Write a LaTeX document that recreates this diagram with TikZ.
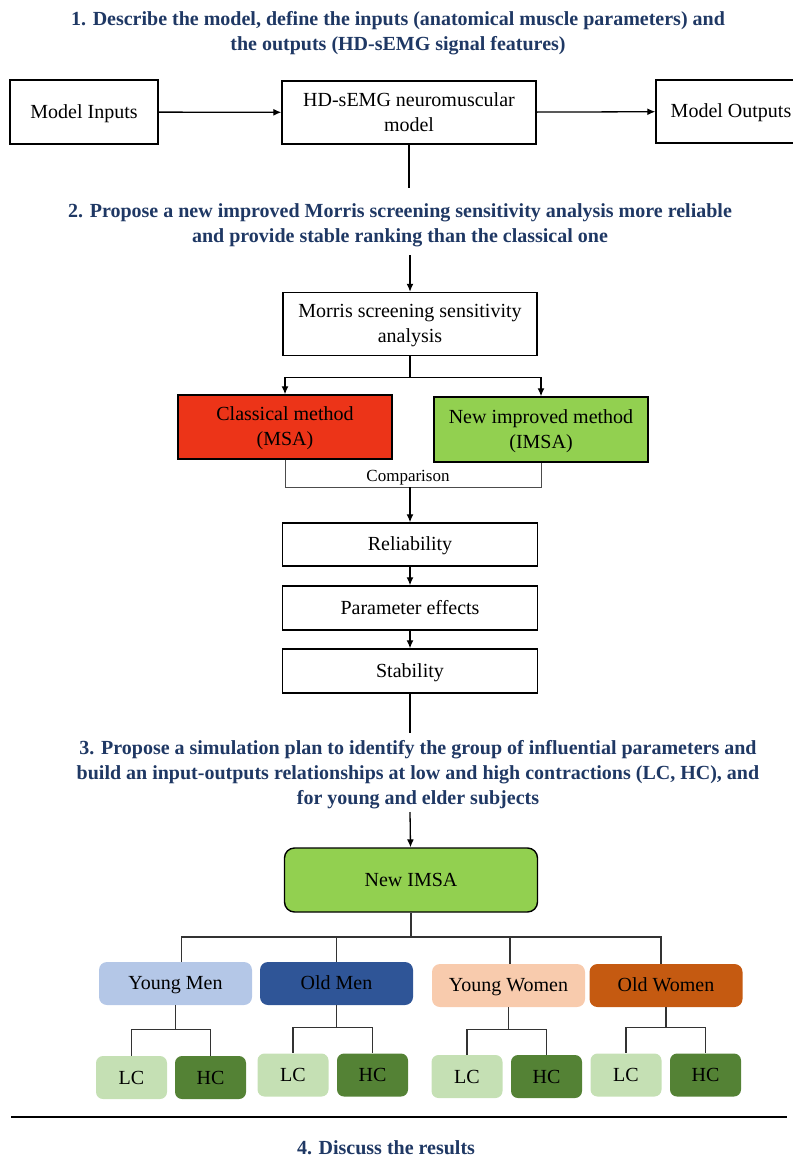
\documentclass[tikz,border=0pt]{standalone}
\usepackage{fontspec}
\setmainfont{Liberation Serif}
\usetikzlibrary{arrows.meta,positioning,calc}
\definecolor{hdblue}{RGB}{31,56,100}
\definecolor{msared}{RGB}{236,52,24}
\definecolor{imsagreen}{RGB}{146,208,80}
\definecolor{ymblue}{RGB}{180,199,231}
\definecolor{omblue}{RGB}{47,85,151}
\definecolor{ywpeach}{RGB}{248,203,173}
\definecolor{oworange}{RGB}{197,90,17}
\definecolor{lcgreen}{RGB}{197,224,180}
\definecolor{hcgreen}{RGB}{84,130,53}

\begin{document}
\begin{tikzpicture}[x=1pt, y=-1pt,
    font=\fontsize{20}{25}\selectfont,
    box/.style={draw, line width=1.4pt, fill=white, align=center, text depth=1pt},
    grp/.style={rounded corners=8pt, minimum width=153pt, minimum height=43pt, text depth=1pt},
    sub/.style={rounded corners=7pt, minimum width=71pt, minimum height=43pt, text depth=0pt},
    hdr/.style={text=hdblue, font=\fontsize{20}{25}\selectfont\bfseries, align=center},
    arr/.style={line width=1.3pt, -{Latex[length=8pt,width=7pt]}},
    link/.style={line width=1.3pt},
    tree/.style={line width=1.1pt, draw=black!80}]
    \useasboundingbox (0,0) rectangle (792,1158);

    % step 1 - the model
    \node[hdr] (hdr1) at (398,33) {1. Describe the model, define the inputs (anatomical muscle parameters) and\\the outputs (HD-sEMG signal features)};
    \node[box, minimum width=148pt, minimum height=64pt] (inputs) at (84,112) {Model Inputs};
    \node[box, minimum width=254pt, minimum height=63pt] (hdmodel) at (409,112.5) {HD-sEMG neuromuscular\\model};
    \node[box, minimum width=150pt, minimum height=63pt] (outputs) at (731,111.5) {Model Outputs};
    \draw[arr] (inputs) -- (hdmodel);
    \draw[arr] (hdmodel) -- (outputs);
    \coordinate (s1) at (409,188);
    \draw[link] (hdmodel) -- (s1);

    % step 2 - Morris screening
    \node[hdr] (hdr2) at (400,225.5) {2. Propose a new improved Morris screening sensitivity analysis more reliable\\and provide stable ranking than the classical one};
    \coordinate (s2) at (410,255);
    \node[box, minimum width=254pt, minimum height=63pt] (morris) at (410,324) {Morris screening sensitivity\\analysis};
    \draw[arr] (s2) -- (morris);
    \node[box, fill=msared, minimum width=214pt, minimum height=64pt] (msa) at (285,427) {Classical method\\(MSA)};
    \node[box, fill=imsagreen, minimum width=214pt, minimum height=65pt] (imsa) at (541,429.5) {New improved method\\(IMSA)};
    \draw[arr] (morris.south) -- ++(0,21) -| (msa.north);
    \draw[arr] (morris.south) -- ++(0,21) -| (imsa.north);
    % comparison bracket
    \draw[line width=0.9pt, draw=black!70] (msa.south) -- ++(0,28) -| (imsa.south);
    \node[font=\fontsize{17}{20}\selectfont] (cmp) at (408,478) {Comparison};
    \coordinate (s3) at (410,487);
    \node[box, minimum width=255pt, minimum height=43pt] (reli) at (410,544.5) {Reliability};
    \node[box, minimum width=255pt, minimum height=44pt] (effects) at (410,608) {Parameter effects};
    \node[box, minimum width=255pt, minimum height=44pt] (stab) at (410,671) {Stability};
    \draw[arr] (s3) -- (reli);
    \draw[arr] (reli) -- (effects);
    \draw[arr] (effects) -- (stab);
    \coordinate (s4) at (410,733);
    \draw[link] (stab) -- (s4);

    % step 3 - simulation plan
    \node[hdr] (hdr3) at (418,774.5) {3. Propose a simulation plan to identify the group of influential parameters and\\build an input-outputs relationships at low and high contractions (LC, HC), and\\for young and elder subjects};
    \coordinate (s5) at (410,812);
    \node[box, fill=imsagreen, rounded corners=10pt, minimum width=253pt, minimum height=64pt] (newimsa) at (411,880) {New IMSA};
    \draw[arr] (s5) -- (newimsa);

    % subject groups
    \node[grp, fill=ymblue] (ym) at (175.5,983.5) {Young Men};
    \node[grp, fill=omblue] (om) at (336.5,983.5) {Old Men};
    \node[grp, fill=ywpeach] (yw) at (508.5,985.5) {Young Women};
    \node[grp, fill=oworange] (ow) at (666,985.5) {Old Women};
    \coordinate (bus) at (411,937);
    \draw[tree] (newimsa) -- (bus);
    \draw[tree] ([xshift=6pt]ym.north) |- (bus);
    \draw[tree] (om.north) |- (bus);
    \draw[tree] ([xshift=1.5pt]yw.north) |- (bus);
    \draw[tree] ([xshift=-5pt]ow.north) |- (bus);

    % low / high contraction
    \node[sub, fill=lcgreen] (ymlc) at (131.5,1077.5) {LC};
    \node[sub, fill=hcgreen] (ymhc) at (210.5,1077.5) {HC};
    \node[sub, fill=lcgreen] (omlc) at (293,1075) {LC};
    \node[sub, fill=hcgreen] (omhc) at (372.5,1075) {HC};
    \node[sub, fill=lcgreen] (ywlc) at (467,1076.5) {LC};
    \node[sub, fill=hcgreen] (ywhc) at (546.5,1076.5) {HC};
    \node[sub, fill=lcgreen] (owlc) at (626,1075) {LC};
    \node[sub, fill=hcgreen] (owhc) at (705.5,1075) {HC};
    \draw[tree] (ym.south) -- ++(0,24) -| (ymlc.north) (ym.south) ++(0,24) -| (ymhc.north);
    \draw[tree] (om.south) -- ++(0,22) -| (omlc.north) (om.south) ++(0,22) -| (omhc.north);
    \draw[tree] (yw.south) -- ++(0,22) -| (ywlc.north) (yw.south) ++(0,22) -| (ywhc.north);
    \draw[tree] (ow.south) -- ++(0,20) -| (owlc.north) (ow.south) ++(0,20) -| (owhc.north);

    % step 4 - results
    \coordinate (ruleL) at (11,1117);
    \coordinate (ruleR) at (787,1117);
    \draw[line width=2.5pt] (ruleL) -- (ruleR);
    \node[hdr] (hdr4) at (386,1148) {4. Discuss the results};
\end{tikzpicture}
\end{document}
